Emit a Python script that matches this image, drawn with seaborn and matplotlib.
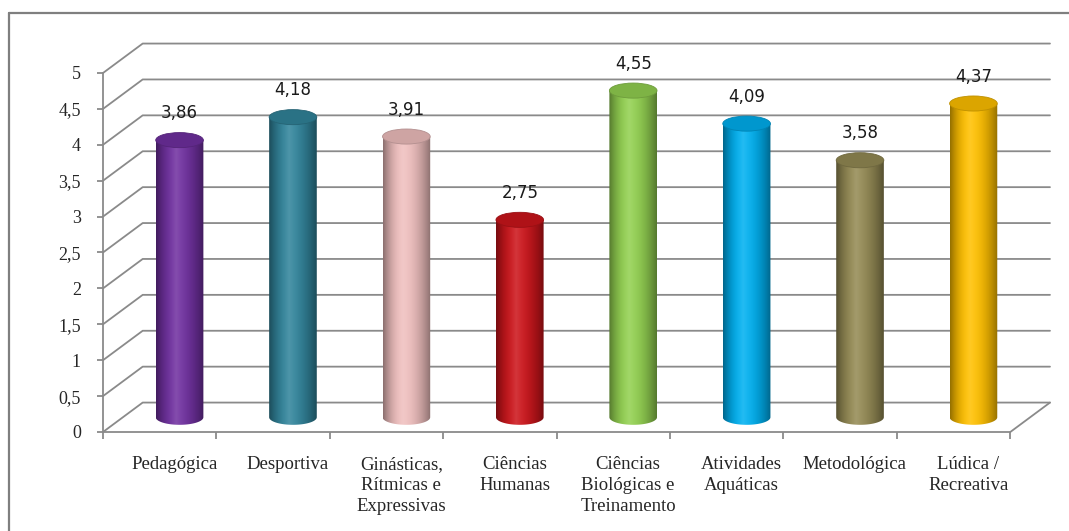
import numpy as np
import matplotlib.pyplot as plt
import seaborn as sns
from matplotlib.patches import Ellipse, PathPatch
from matplotlib.path import Path
from matplotlib.lines import Line2D
from matplotlib.colors import to_rgb
from matplotlib.ticker import FuncFormatter

# dados do gráfico
categorias = ["Pedagógica", "Desportiva", "Ginásticas,\nRítmicas e\nExpressivas",
              "Ciências\nHumanas", "Ciências\nBiológicas e\nTreinamento",
              "Atividades\nAquáticas", "Metodológica", "Lúdica /\nRecreativa"]
medias = [3.86, 4.18, 3.91, 2.75, 4.55, 4.09, 3.58, 4.37]
cores = ["#7030A0", "#31849B", "#EFBFBE", "#CC151B", "#92D050", "#00B0F0", "#948A54", "#FFC000"]
yticks = [0, 0.5, 1, 1.5, 2, 2.5, 3, 3.5, 4, 4.5, 5]

sns.set_style("white")
plt.rcParams['font.family'] = ['Liberation Serif', 'DejaVu Serif']

fig = plt.figure(figsize=(10.69, 5.31), dpi=100)
ax = fig.add_axes([103 / 1069, 99 / 531, 964 / 1069, 398.5 / 531])

# profundidade falsa 3D (unidades de dados)
DX, DY = 0.35, 0.41
ox, oy = DX / 2, DY / 2
grid = "#8a8a8a"
n = len(categorias)

# paredes / grade
for t in yticks:
    ax.plot([-0.5, -0.5 + DX, n - 0.5 + DX], [t, t + DY, t + DY],
            color=grid, lw=1.3, zorder=0.5, clip_on=False)
ax.plot([n - 0.5, n - 0.5 + DX], [0, DY], color=grid, lw=1.3, zorder=0.5, clip_on=False)

sns.barplot(x=categorias, y=medias, hue=categorias, palette=cores, legend=False,
            width=0.42, saturation=1, ax=ax)

eh = 0.105  # meia altura da elipse
bars = sorted(ax.patches, key=lambda p: p.get_x())
for p, cor, v in zip(bars, cores, medias):
    p.set_visible(False)
    x0 = p.get_x() + ox
    w = p.get_width()
    h = p.get_height()
    y0 = p.get_y() + oy
    cx = x0 + w / 2

    # corpo do cilindro: retângulo + meia elipse em baixo
    ang = np.linspace(np.pi, 2 * np.pi, 40)
    arc = np.column_stack([cx + w / 2 * np.cos(ang), y0 + eh * np.sin(ang)])
    verts = np.vstack([[x0, y0 + h], arc, [x0 + w, y0 + h], [x0, y0 + h]])
    codes = [Path.MOVETO] + [Path.LINETO] * (len(verts) - 2) + [Path.CLOSEPOLY]
    body = PathPatch(Path(verts, codes), transform=ax.transData,
                     facecolor="none", edgecolor="none")

    base = np.array(to_rgb(cor))
    s = np.linspace(0, 1, 120)
    f = np.where(s < 0.42, (0.42 - s) / 0.42, (s - 0.42) / 0.58)
    dark = 0.42 * f ** 2
    light = 0.14 * (1 - f) ** 3
    col = base[None, :] * (1 - dark[:, None])
    col = col + (1 - col) * light[:, None]
    im = ax.imshow(col[None, :, :], extent=[x0, x0 + w, y0 - eh, y0 + h],
                   aspect="auto", interpolation="bilinear", zorder=2)
    im.set_clip_path(body)

    topo = base * 0.86
    ax.add_patch(Ellipse((cx, y0 + h), w, 2 * eh, facecolor=topo,
                         edgecolor=base * 0.75, lw=0.6, zorder=3))

    ax.text(cx, y0 + h + 0.25, f"{v:.2f}".replace(".", ","), ha="center", va="bottom",
            fontsize=12, family="DejaVu Sans", color="#1a1a1a", zorder=4)

ax.set_xlim(-0.5, 8.0)
ax.set_ylim(0, 5.55)

for side in ["top", "right"]:
    ax.spines[side].set_visible(False)
ax.spines["left"].set_bounds(0, 5)
ax.spines["bottom"].set_bounds(-0.5, n - 0.5)
for side in ["left", "bottom"]:
    ax.spines[side].set_color(grid)
    ax.spines[side].set_linewidth(1.3)

ax.set_yticks(yticks)
ax.yaxis.set_major_formatter(FuncFormatter(lambda v, pos: f"{v:g}".replace(".", ",")))
ax.tick_params(axis="y", direction="out", length=4, width=1.3, color=grid,
               labelsize=13, pad=12, left=True)

ax.set_xticks(np.arange(-0.5, n, 1.0))
ax.set_xticklabels([])
ax.set_xticks(np.arange(n) + 0.13, categorias, minor=True)
ax.tick_params(axis="x", which="major", direction="out", length=5, width=1.3,
               color=grid, bottom=True)
ax.tick_params(axis="x", which="minor", length=0, labelsize=13.5, pad=17)
for lb in ax.get_xticklabels(minor=True):
    lb.set_linespacing(1.32)
ax.set_xlabel("")
ax.set_ylabel("")

# moldura externa
fig.add_artist(Line2D([9 / 1069, 9 / 1069], [0, 1 - 13 / 531], color="#7f7f7f", lw=1.6))
fig.add_artist(Line2D([9 / 1069, 1], [1 - 13 / 531, 1 - 13 / 531], color="#7f7f7f", lw=1.6))

fig.savefig("out.png", dpi=100)
